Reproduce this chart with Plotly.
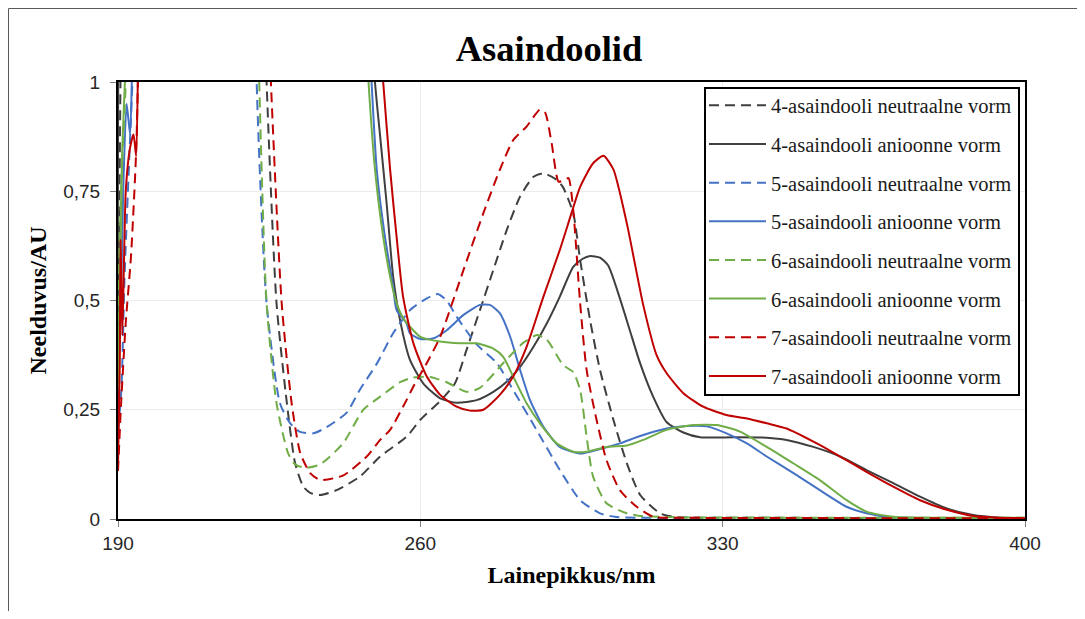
import plotly.graph_objects as go

# ---------------- data ----------------
names = [
    "4-asaindooli neutraalne vorm",
    "4-asaindooli anioonne vorm",
    "5-asaindooli neutraalne vorm",
    "5-asaindooli anioonne vorm",
    "6-asaindooli neutraalne vorm",
    "6-asaindooli anioonne vorm",
    "7-asaindooli neutraalne vorm",
    "7-asaindooli anioonne vorm",
]

x_4_neutral = [190, 190.2, 191.0, 196, 220, 224.4, 226.7, 229.1, 231, 232.9, 234.5, 236.8, 240.6, 246, 250.7,
               256.8, 260, 264.6, 268, 270.7, 273.8, 276.9, 280, 283.1, 286.2, 288.5, 291.6, 293, 295.4, 297,
               299.3, 301.6, 304.7, 307.8, 310.9, 315.5, 318.5, 325, 340, 360, 380, 400]
y_4_neutral = [0.4, 0.55, 1.3, 2.5, 2.5, 1.0, 0.494, 0.265, 0.128, 0.074, 0.06, 0.055, 0.066, 0.097, 0.143,
               0.188, 0.227, 0.27, 0.31, 0.387, 0.478, 0.57, 0.661, 0.738, 0.783, 0.791, 0.776, 0.76, 0.70, 0.593,
               0.455, 0.341, 0.227, 0.128, 0.055, 0.013, 0.005, 0.003, 0.003, 0.002, 0.002, 0.002]

x_4_anion = [190, 190.4, 196, 240, 249.5, 250.7, 252.2, 253.7, 255.3, 257.6, 260.7, 264.6, 268.4, 273, 276.9,
             280, 283.1, 286.2, 289.3, 292.3, 295.4, 297.5, 299.3, 301.6, 303.5, 306.2, 308.5, 310.9, 313.9, 317,
             320.9, 324.8, 332.5, 340.2, 344.8, 351, 357.2, 363.3, 369.5, 375.7, 381.9, 388, 394.2, 400]
y_4_anion = [0.15, 1.3, 2.5, 2.5, 1.0, 0.875, 0.722, 0.555, 0.455, 0.364, 0.31, 0.276, 0.266, 0.272, 0.291,
             0.314, 0.348, 0.394, 0.448, 0.509, 0.577, 0.595, 0.602, 0.598, 0.58, 0.505, 0.432, 0.356, 0.28, 0.222,
             0.198, 0.187, 0.187, 0.186, 0.181, 0.165, 0.143, 0.112, 0.082, 0.051, 0.024, 0.009, 0.003, 0.001]

x_5_neutral = [190, 190.8, 191.5, 192.5, 193.5, 196, 220, 222.1, 224.4, 227.5, 229.8, 232, 235.2, 238.3, 242.9,
               246, 249.9, 253.7, 257.6, 261.5, 264, 266.1, 268.4, 273, 277.7, 281.5, 286.9, 292.3, 297, 301.6,
               305, 310, 330, 360, 400]
y_5_neutral = [0.2, 0.3, 0.55, 0.8, 1.05, 2.5, 2.5, 1.0, 0.494, 0.265, 0.22, 0.2, 0.196, 0.21, 0.243,
               0.296, 0.355, 0.425, 0.478, 0.505, 0.515, 0.5, 0.463, 0.40, 0.357, 0.295, 0.204, 0.112, 0.043, 0.013,
               0.005, 0.003, 0.002, 0.002, 0.002]

x_5_anion = [190, 190.5, 191.2, 192, 192.8, 193.3, 196, 240, 248.7, 249.9, 251.8, 253.7, 254.5, 256.8, 257.6,
             260, 262.9, 266.1, 270, 273.8, 276.1, 278.4, 280.8, 283.1, 285.4, 288.5, 292.3, 297, 300.8, 306.2,
             310.9, 317, 321.7, 326.3, 330.9, 335.6, 340.2, 346.4, 352.5, 358.7, 363.3, 369, 380, 400]
y_5_anion = [0.35, 0.42, 0.75, 0.95, 0.88, 1.05, 2.5, 2.5, 1.0, 0.8, 0.646, 0.532, 0.478, 0.448, 0.425,
             0.412, 0.413, 0.432, 0.467, 0.49, 0.49, 0.471, 0.417, 0.341, 0.272, 0.211, 0.165, 0.15, 0.158, 0.173,
             0.19, 0.207, 0.213, 0.212, 0.196, 0.173, 0.143, 0.105, 0.066, 0.028, 0.013, 0.004, 0.002, 0.002]

x_6_neutral = [190, 190.7, 192, 196, 220, 222.7, 224.4, 226.7, 229.4, 231, 233.3, 236.8, 242.1, 246.8, 250.7,
               255.3, 258, 262.2, 266.1, 270.7, 273.8, 279.2, 283.8, 287, 289.3, 293.1, 295.4, 297, 298.5, 300,
               303.1, 307.8, 310.9, 320, 360, 400]
y_6_neutral = [0.45, 0.75, 1.05, 2.5, 2.5, 1.0, 0.494, 0.265, 0.15, 0.125, 0.117, 0.125, 0.173, 0.25, 0.28,
               0.313, 0.323, 0.325, 0.313, 0.291, 0.30, 0.357, 0.403, 0.421, 0.41, 0.352, 0.336, 0.295, 0.188, 0.097,
               0.036, 0.013, 0.007, 0.004, 0.003, 0.003]

x_6_anion = [190, 191, 192, 196, 240, 248, 249.5, 251.4, 253, 254.5, 256, 257.6, 260, 264.6, 269.2, 273, 276.9,
             279.2, 281.5, 284.6, 287.7, 291.6, 295.4, 298.5, 303.1, 307.8, 311.6, 317, 323.2, 328.6, 334, 340.2,
             346.4, 352.5, 358.7, 363.3, 369.5, 380, 400]
y_6_anion = [0.3, 0.85, 1.1, 2.5, 2.5, 1.0, 0.8, 0.646, 0.555, 0.494, 0.46, 0.44, 0.417, 0.406, 0.402, 0.402, 0.39,
             0.371, 0.326, 0.265, 0.219, 0.173, 0.154, 0.154, 0.165, 0.168, 0.181, 0.204, 0.215, 0.215, 0.2, 0.165,
             0.127, 0.089, 0.043, 0.017, 0.005, 0.003, 0.003]

x_7_neutral = [190, 190.7, 191.8, 193.0, 194.2, 194.8, 196, 220, 225.4, 227.9, 230.2, 232.2, 234.5, 236.8, 242.2,
               247.6, 250.7, 253, 256.8, 258.4, 261.5, 264.6, 270, 274.6, 278.4, 281.5, 284.6, 287.7, 288.9, 290.4,
               292, 293.2, 294.3, 295.4, 297, 298.5, 300.8, 303.1, 306.2, 310.1, 314, 320, 360, 400]
y_7_neutral = [0.11, 0.26, 0.45, 0.6, 0.84, 1.1, 2.5, 2.5, 1.0, 0.494, 0.265, 0.151, 0.105, 0.089, 0.1,
               0.143, 0.181, 0.204, 0.272, 0.303, 0.357, 0.417, 0.57, 0.70, 0.799, 0.867, 0.898, 0.937, 0.93, 0.86,
               0.772, 0.775, 0.78, 0.707, 0.494, 0.341, 0.227, 0.135, 0.066, 0.028, 0.005, 0.003, 0.002, 0.002]

x_7_anion = [190, 190.4, 190.6, 191.0, 191.8, 192.8, 193.6, 194.2, 194.7, 196, 240, 251.4, 253, 254.5, 256, 258.4,
             261.5, 264.6, 268.4, 271.5, 274.6, 278.4, 281.5, 284.6, 288.5, 292.3, 295, 297, 300, 302.4, 304.7,
             307.8, 311.6, 314.7, 317, 320.9, 325.5, 330.9, 335.6, 340.2, 344.8, 351, 357.2, 363.3, 369.5, 375.7,
             381.9, 388, 394.2, 400]
y_7_anion = [0.12, 0.35, 0.64, 0.42, 0.75, 0.85, 0.88, 0.83, 1.1, 2.5, 2.5, 1.0, 0.8, 0.646, 0.509, 0.402,
             0.326, 0.284, 0.257, 0.248, 0.25, 0.284, 0.326, 0.394, 0.509, 0.616, 0.7, 0.76, 0.814, 0.831, 0.8,
             0.677, 0.49, 0.375, 0.334, 0.288, 0.257, 0.238, 0.23, 0.219, 0.207, 0.177, 0.143, 0.108, 0.074, 0.043,
             0.021, 0.007, 0.003, 0.002]

x_tick_vals = [190, 260, 330, 400]
x_tick_text = ["190", "260", "330", "400"]
y_tick_vals = [0, 0.25, 0.5, 0.75, 1]
y_tick_text = ["0", "0,25", "0,5", "0,75", "1"]

# ---------------- styling ----------------
series_x = [x_4_neutral, x_4_anion, x_5_neutral, x_5_anion, x_6_neutral, x_6_anion, x_7_neutral, x_7_anion]
series_y = [y_4_neutral, y_4_anion, y_5_neutral, y_5_anion, y_6_neutral, y_6_anion, y_7_neutral, y_7_anion]
colors = ["#3f3f3f", "#3f3f3f", "#4472C4", "#4472C4", "#70AD47", "#70AD47", "#C00000", "#C00000"]
dashes = ["10px,6px", "solid"] * 4

fig = go.Figure()
for i in range(8):
    fig.add_trace(go.Scatter(
        x=series_x[i], y=series_y[i], mode="lines", name=names[i],
        legendgroup=f"g{i}",
        line=dict(color=colors[i], width=2, dash=dashes[i], shape="spline", smoothing=0.6),
    ))

# page body has an 8px margin, so figure pixel = screen pixel - 8
OFF = 8
W, H = 1069, 603
L, T = 118 - OFF, 82 - OFF
pw, ph = 907, 437
R = W - L - pw
B = H - T - ph

def px_x(p):  # screen pixel -> paper x
    return (p - OFF - L) / pw

def px_y(p):  # screen pixel -> paper y
    return (T + ph - (p - OFF)) / ph

fig.update_layout(
    width=W, height=H,
    margin=dict(l=L, r=R, t=T, b=B),
    paper_bgcolor="white", plot_bgcolor="white",
    title=dict(text="<b>Asaindoolid</b>", x=(549 - OFF) / W, xanchor="center",
               y=1 - (48 - OFF) / H, yanchor="middle", yref="container",
               font=dict(family="Liberation Serif", size=36.5, color="black")),
    xaxis=dict(range=[190, 400], tickvals=x_tick_vals, ticktext=x_tick_text,
               showgrid=True, gridcolor="#ebebeb", gridwidth=1,
               showline=True, linecolor="black", linewidth=2, mirror=True,
               ticks="outside", ticklen=6, tickcolor="#7f7f7f", tickwidth=1,
               tickfont=dict(family="Liberation Sans", size=19, color="#262626"),
               zeroline=False, layer="below traces",
               title=dict(text="<b>Lainepikkus/nm</b>", standoff=13,
                          font=dict(family="Liberation Serif", size=24, color="black"))),
    yaxis=dict(range=[0, 1], tickvals=y_tick_vals, ticktext=y_tick_text,
               showgrid=True, gridcolor="#ebebeb", gridwidth=1,
               showline=True, linecolor="black", linewidth=2, mirror=True,
               ticks="outside", ticklen=6, tickcolor="#7f7f7f", tickwidth=1,
               ticklabelstandoff=6,
               tickfont=dict(family="Liberation Sans", size=19, color="#262626"),
               zeroline=False, layer="below traces",
               title=dict(text="<b>Neelduvus/AU</b>", standoff=10,
                          font=dict(family="Liberation Serif", size=24, color="black"))),
    legend=dict(x=px_x(704), y=px_y(85.5), xanchor="left", yanchor="top",
                bgcolor="rgba(0,0,0,0)", borderwidth=0,
                font=dict(family="Liberation Serif", size=20.5, color="#1a1a1a"),
                itemwidth=57, tracegroupgap=9, traceorder="grouped"),
    shapes=[
        # outer chart frame (left and top edges), kept inside the figure
        dict(type="line", xref="paper", yref="paper",
             x0=px_x(OFF + 0.5), x1=px_x(OFF + 0.5), y0=px_y(OFF + 0.5), y1=px_y(OFF + H),
             line=dict(color="#595959", width=1)),
        dict(type="line", xref="paper", yref="paper",
             x0=px_x(OFF + 0.5), x1=px_x(OFF + W), y0=px_y(OFF + 0.5), y1=px_y(OFF + 0.5),
             line=dict(color="#595959", width=1)),
        # legend box
        dict(type="rect", xref="paper", yref="paper", layer="above",
             x0=px_x(705), x1=px_x(1019), y0=px_y(395), y1=px_y(88),
             fillcolor="white", line=dict(color="black", width=2)),
    ],
)

fig.write_html("out.html")
